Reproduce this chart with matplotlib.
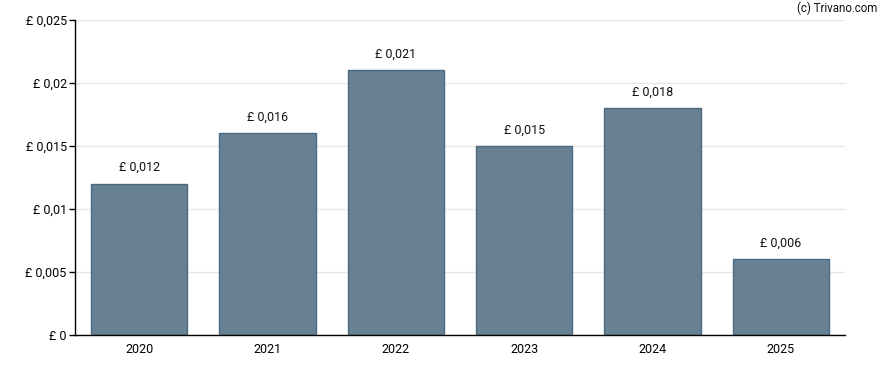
import matplotlib
matplotlib.use("Agg")
import matplotlib.pyplot as plt
from matplotlib.ticker import FixedLocator

years = ["2020", "2021", "2022", "2023", "2024", "2025"]
values = [0.012, 0.016, 0.021, 0.015, 0.018, 0.006]
labels = ["£ 0,012", "£ 0,016", "£ 0,021", "£ 0,015", "£ 0,018", "£ 0,006"]
yticks = [0, 0.005, 0.01, 0.015, 0.02, 0.025]
ytick_labels = ["£ 0", "£ 0,005", "£ 0,01", "£ 0,015", "£ 0,02", "£ 0,025"]

plt.rcParams['font.family'] = ['Roboto', 'DejaVu Sans']

fig = plt.figure(figsize=(8.88, 3.70), dpi=100)
ax = fig.add_axes([75/888, 35/370, 770/888, 315/370])

x = list(range(len(years)))
ax.bar(x, values, width=0.75, color="#678193", edgecolor="#4a6a82", linewidth=1, zorder=2)
for xi, v, lab in zip(x, values, labels):
    ax.annotate(lab, (xi, v), xytext=(0, 7), textcoords="offset points",
                ha="center", va="bottom", fontsize=9, color="#111111")

ax.set_xlim(-0.5, 5.5)
ax.set_ylim(0, 0.025)
ax.set_xticks(x)
ax.set_xticklabels(years, fontsize=9)
ax.yaxis.set_major_locator(FixedLocator(yticks))
ax.set_yticklabels(ytick_labels, fontsize=9)
ax.tick_params(axis="x", length=0, pad=6)
ax.tick_params(axis="y", length=4, width=1, pad=2)
ax.grid(axis="y", color="#e6e6e6", linewidth=1, zorder=0)
ax.set_axisbelow(True)
for s in ["top", "right"]:
    ax.spines[s].set_visible(False)
for s in ["left", "bottom"]:
    ax.spines[s].set_color("black")
    ax.spines[s].set_linewidth(1)

fig.text(877/888, 1 - 8/370, "(c) Trivano.com", ha="right", va="center", fontsize=8.3, color="#111111")

fig.savefig("out.png", dpi=100)
